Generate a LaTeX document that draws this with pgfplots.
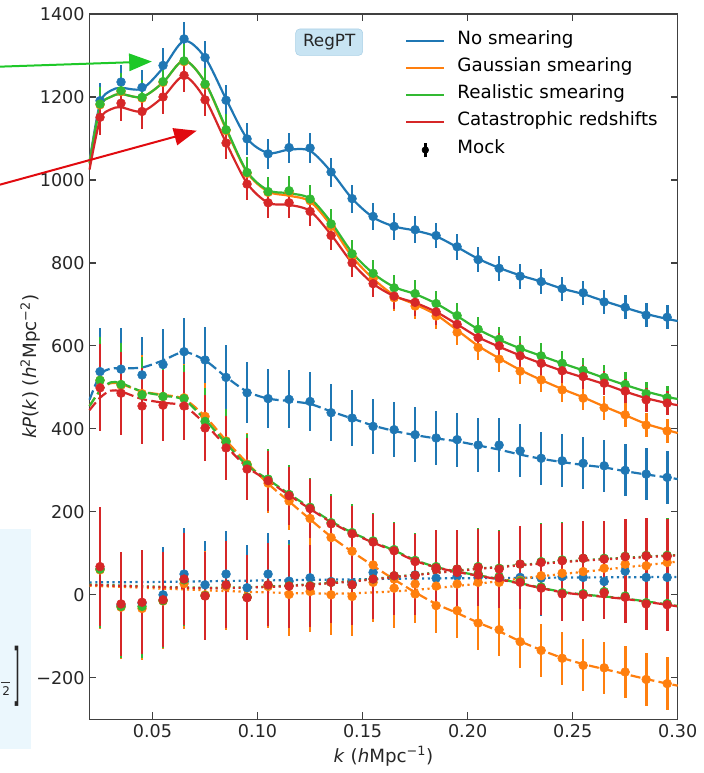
\documentclass[border=0pt]{standalone}
\usepackage{pgfplots}
\pgfplotsset{compat=1.18}
\usepackage{pgfplotstable}
\usepackage{fontspec}
\setmainfont{DejaVu Sans}
\usetikzlibrary{arrows.meta}
\definecolor{cblue}{RGB}{31,119,180}
\definecolor{corange}{RGB}{255,127,14}
\definecolor{cgreen}{RGB}{50,185,50}
\definecolor{cred}{RGB}{214,39,40}
\definecolor{boxfill}{RGB}{200,228,243}
\definecolor{boxdraw}{RGB}{170,208,230}
\definecolor{slidebox}{RGB}{235,247,253}

% monopole mock: k, blue, orange, green, red, error
\pgfplotstableread{
k b o g r e
0.025 1191 1181 1183 1151 42
0.035 1236 1213 1215 1185 42
0.045 1223 1197 1199 1165 42
0.055 1276 1235 1237 1200 42
0.065 1340 1285 1287 1252 40
0.075 1295 1229 1231 1193 40
0.085 1192 1119 1121 1089 38
0.095 1099 1016 1018 990 38
0.105 1063 970 972 945 36
0.115 1078 970 974 945 36
0.125 1077 950 954 924 35
0.135 1019 888 894 866 35
0.145 955 815 822 800 34
0.155 912 762 775 750 33
0.165 888 716 740 720 32
0.175 880 696 726 705 32
0.185 866 672 702 682 31
0.195 839 633 673 652 31
0.205 808 596 640 620 30
0.215 787 568 616 600 30
0.225 768 539 593 576 30
0.235 755 518 576 558 30
0.245 738 494 558 540 29
0.255 728 474 541 526 29
0.265 706 451 524 510 29
0.275 693 434 507 491 29
0.285 674 409 485 470 29
0.295 669 395 475 462 29
}\monomock

\pgfplotstableread{
k b o g r e
0.025 538 517 517 499 105
0.035 544 505 507 486 100
0.045 530 485 482 455 92
0.055 555 478 478 457 86
0.065 586 475 473 455 82
0.075 566 430 418 402 80
0.085 524 371 369 354 78
0.095 487 315 313 303 74
0.105 473 269 279 275 72
0.115 471 226 242 239 70
0.125 466 184 211 208 70
0.135 439 138 174 171 68
0.145 426 105 150 147 68
0.155 406 72 130 127 67
0.165 398 38 109 106 66
0.175 386 2 83 80 66
0.185 378 -26 68 65 65
0.195 374 -38 57 54 65
0.205 361 -68 51 48 65
0.215 361 -84 44 41 64
0.225 347 -113 33 30 64
0.235 329 -134 19 16 64
0.245 323 -153 5 2 64
0.255 317 -170 3 0 63
0.265 311 -176 8 5 63
0.275 300 -186 -3 -6 63
0.285 291 -204 -19 -22 63
0.295 283 -214 -21 -24 63
}\quadmock

\pgfplotstableread{
k b o g r e
0.025 62 60 62 68 143
0.035 -25 -30 -28 -22 125
0.045 -20 -33 -28 -18 125
0.055 0 -15 -14 -12 115
0.065 50 27 36 38 110
0.075 24 0 -2 -3 105
0.085 50 20 24 24 105
0.095 17 -5 -6 -7 102
0.105 50 20 24 24 100
0.115 33 1 22 21 100
0.125 41 8 22 21 98
0.135 32 0 30 30 98
0.145 28 -4 24 24 96
0.155 54 30 38 38 96
0.165 42 16 46 46 95
0.175 48 26 47 47 95
0.185 40 21 62 62 94
0.195 45 26 62 62 94
0.205 42 30 68 66 93
0.215 38 30 64 62 93
0.225 42 35 74 74 92
0.235 40 46 80 78 92
0.245 44 52 84 82 92
0.255 42 56 88 88 91
0.265 32 64 88 86 91
0.275 57 74 93 92 90
0.285 42 70 95 94 90
0.295 42 78 95 93 90
}\hexmock

\pgfplotstableread{
k b o g r
0.020 1045 1040 1040 1025
0.025 1185 1175 1175 1145
0.030 1215 1200 1200 1170
0.035 1222 1207 1207 1175
0.045 1220 1200 1200 1165
0.055 1270 1235 1235 1200
0.065 1335 1288 1288 1250
0.075 1295 1235 1235 1195
0.085 1195 1122 1125 1090
0.095 1100 1018 1020 992
0.105 1065 972 975 945
0.115 1073 962 968 940
0.125 1070 948 955 925
0.135 1020 890 898 868
0.145 955 815 825 800
0.155 910 762 775 750
0.165 888 722 742 720
0.175 878 700 725 704
0.185 864 675 702 682
0.195 838 638 672 652
0.205 810 600 640 621
0.215 788 570 615 598
0.225 770 542 594 577
0.235 755 518 576 558
0.245 738 496 558 540
0.255 725 476 541 524
0.265 708 454 523 508
0.275 692 433 506 490
0.285 677 412 490 474
0.295 665 397 477 462
0.300 660 390 472 457
}\monomodel

\pgfplotstableread{
k b o g r
0.020 470 455 455 445
0.025 530 492 492 475
0.030 545 510 512 492
0.035 546 508 510 490
0.045 548 490 490 472
0.055 565 482 480 463
0.065 585 472 470 455
0.075 565 430 422 412
0.085 525 372 365 358
0.095 490 318 312 308
0.105 473 268 278 275
0.115 467 225 243 240
0.125 460 182 210 207
0.135 442 140 177 175
0.145 425 104 150 148
0.155 408 70 128 126
0.165 395 37 107 105
0.175 385 6 84 82
0.185 377 -22 67 66
0.195 370 -44 56 55
0.205 360 -67 47 46
0.215 350 -88 38 37
0.225 338 -112 28 27
0.235 328 -133 17 16
0.245 320 -152 7 6
0.255 313 -167 1 0
0.265 307 -179 -4 -5
0.275 298 -191 -9 -10
0.285 290 -203 -16 -17
0.295 283 -214 -23 -24
0.300 279 -219 -27 -28
}\quadmodel

\pgfplotstableread{
k b o g r
0.02 30 22 25 24
0.05 31 16 20 19
0.08 33 10 17 16
0.11 35 5 21 20
0.14 37 3 31 30
0.17 39 10 46 45
0.20 40 24 61 60
0.23 41 42 74 73
0.26 42 58 85 84
0.30 43 80 96 95
}\hexmodel

\pgfplotsset{
  model/.style={smooth, no markers, line width=1.65pt},
  dashedm/.style={dash pattern=on 7.5pt off 3.2pt},
  dottedm/.style={dash pattern=on 1.6pt off 2.7pt},
  mock/.style={only marks, mark=*, mark size=3.3pt, mark options={solid},
    /pgfplots/error bars/y dir=both,
    /pgfplots/error bars/y explicit,
    /pgfplots/error bars/error mark=none,
    /pgfplots/error bars/error bar style={line width=2pt, solid}},
}

\newcommand{\series}[2]{%
  \addplot[#1, model, forget plot] table[x=k,y=#2]{\monomodel};
  \addplot[#1, model, dashedm, forget plot] table[x=k,y=#2]{\quadmodel};
  \addplot[#1, model, dottedm, forget plot] table[x=k,y=#2]{\hexmodel};
  \addplot[#1, mock, forget plot] table[x=k,y=#2,y error=e]{\monomock};
  \addplot[#1, mock, forget plot] table[x=k,y=#2,y error=e]{\quadmock};
  \addplot[#1, mock, forget plot] table[x=k,y=#2,y error=e]{\hexmock};
}

\begin{document}
\begin{tikzpicture}
\begin{axis}[
  name=ax,
  width=441.3pt, height=529pt, scale only axis,
  xmin=0.0199, xmax=0.30, ymin=-300, ymax=1400,
  xtick={0.05,0.1,0.15,0.2,0.25,0.3},
  xticklabels={0.05,0.10,0.15,0.20,0.25,0.30},
  ytick={-200,0,...,1400},
  yticklabels={−200,0,200,400,600,800,1000,1200,1400},
  tick label style={font=\fontsize{13.2}{15}\selectfont, text=black!85},
  major tick length=5.25pt,
  tick style={black!75, line width=0.9pt},
  axis line style={black!75, line width=1pt},
  clip=false,
  xlabel={\textit{k} (\textit{h}Mpc\textsuperscript{−1})},
  ylabel={\textit{kP}(\textit{k}) (\textit{h}\textsuperscript{2}Mpc\textsuperscript{−2})},
  label style={font=\fontsize{13.7}{16}\selectfont, text=black!85},
  ylabel style={at={([xshift=-44.1pt]axis description cs:0,0.5)}, anchor=center},
  legend style={at={(rel axis cs:0.5365,0.9731)}, anchor=north west,
    draw=none, fill=none, inner sep=0pt, row sep=8.25pt,
    font=\fontsize{13.7}{16}\selectfont,
    nodes={inner sep=1pt, text height=0.75em, text depth=0.25em},
    /tikz/every odd column/.append style={column sep=8pt}},
  legend cell align=left,
  legend image code/.code={\draw[#1] (0pt,0pt) -- (28.5pt,0pt);},
]
\series{cblue}{b}
\series{corange}{o}
\series{cgreen}{g}
\series{cred}{r}

\addlegendimage{cblue, line width=1.65pt}
\addlegendentry{No smearing}
\addlegendimage{corange, line width=1.65pt}
\addlegendentry{Gaussian smearing}
\addlegendimage{cgreen, line width=1.65pt}
\addlegendentry{Realistic smearing}
\addlegendimage{cred, line width=1.65pt}
\addlegendentry{Catastrophic redshifts}
\addlegendimage{legend image code/.code={\draw[black, line width=2pt] (14.25pt,-5.6pt) -- (14.25pt,5.6pt); \fill[black] (14.25pt,0pt) circle (2.5pt);}}
\addlegendentry{Mock}

\node[fill=boxfill, draw=boxdraw, rounded corners=3pt, inner xsep=5.5pt, inner ysep=4pt,
  font=\fontsize{12.6}{14}\selectfont, text=black!85] at (axis cs:0.1341,1332) {RegPT};

% slide annotations
\fill[slidebox] (axis cs:-0.035,158.6) rectangle (axis cs:-0.00787,-370.8);
\node[inner sep=0pt, anchor=east, text=black!85] at (axis cs:-0.01263,-197.5)
  {\raisebox{2.2pt}{\fontsize{9}{10}\selectfont 2}\hspace{3pt}\scalebox{1}[3.9]{\fontsize{13}{14}\selectfont ]}};
\draw[black!80, line width=0.5pt] (axis cs:-0.02213,-212) -- (axis cs:-0.0178,-212);
\draw[-{Triangle[length=17pt,width=13pt]}, line width=1.5pt, color={rgb,255:red,30;green,200;blue,40}]
  (axis cs:-0.030,1271.8) -- (axis cs:0.04967,1285.4);
\draw[-{Triangle[length=17pt,width=13pt]}, line width=1.5pt, color={rgb,255:red,225;green,10;blue,15}]
  (axis cs:-0.030,978.4) -- (axis cs:0.07102,1118.6);
\end{axis}
\pgfresetboundingbox
\path ([xshift=-67pt,yshift=-40.3pt]ax.south west) rectangle ([xshift=19.7pt,yshift=10.5pt]ax.north east);
\end{tikzpicture}
\end{document}
